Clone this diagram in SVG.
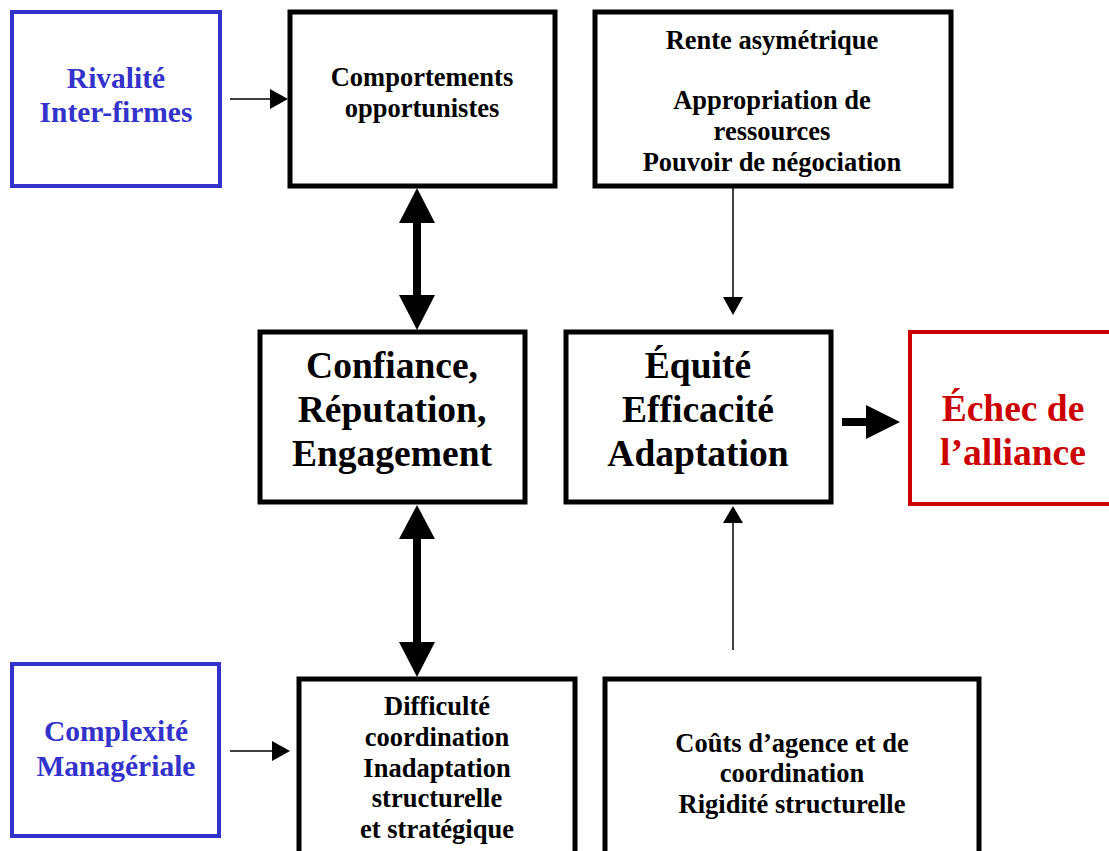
<svg xmlns="http://www.w3.org/2000/svg" width="1109" height="851" viewBox="0 0 1109 851">
<style>
.box{fill:#fff;stroke:#000;stroke-width:5}
.blue{fill:#fff;stroke:#3333CC;stroke-width:4}
.red{fill:#fff;stroke:#CC0000;stroke-width:4}
text{font-family:"Liberation Serif","Times New Roman",serif;font-weight:bold;text-anchor:middle;fill:#000}
.s{font-size:26.5px}
.m{font-size:29.5px;fill:#3333CC}
.l{font-size:37.5px}
.r{font-size:37.5px;fill:#CC0000}
.thin{stroke:#000;stroke-width:1.5;fill:none}
.thick{stroke:#000;stroke-width:8;fill:none}
</style>
<rect width="1109" height="851" fill="#fff"/>
<g id="rivalite"><rect class="blue" x="12" y="12" width="208" height="174"/><text class="m" x="116" y="88">Rivalité</text><text class="m" x="116" y="122">Inter-firmes</text></g>
<g id="comportements"><rect class="box" x="290" y="12" width="265" height="174"/><text class="s" x="422" y="86">Comportements</text><text class="s" x="422" y="117">opportunistes</text></g>
<g id="rente"><rect class="box" x="595" y="12" width="356" height="174"/><text class="s" x="772" y="49">Rente asymétrique</text><text class="s" x="772" y="109">Appropriation de</text><text class="s" x="772" y="140">ressources</text><text class="s" x="772" y="171">Pouvoir de négociation</text></g>
<g id="confiance"><rect class="box" x="260" y="332" width="265" height="170"/><text class="l" x="392" y="378">Confiance,</text><text class="l" x="392" y="422">Réputation,</text><text class="l" x="392" y="466">Engagement</text></g>
<g id="equite"><rect class="box" x="566" y="332" width="265" height="170"/><text class="l" x="698" y="378">Équité</text><text class="l" x="698" y="422">Efficacité</text><text class="l" x="698" y="466">Adaptation</text></g>
<g id="echec"><rect class="red" x="910" y="332" width="205" height="172"/><text class="r" x="1013" y="421">Échec de</text><text class="r" x="1013" y="465">l’alliance</text></g>
<g id="complexite"><rect class="blue" x="12" y="664" width="207" height="172"/><text class="m" x="116" y="741">Complexité</text><text class="m" x="116" y="776">Managériale</text></g>
<g id="difficulte"><rect class="box" x="299" y="679" width="276" height="180"/><text class="s" x="437" y="715">Difficulté</text><text class="s" x="437" y="746">coordination</text><text class="s" x="437" y="777">Inadaptation</text><text class="s" x="437" y="807">structurelle</text><text class="s" x="437" y="838">et stratégique</text></g>
<g id="couts"><rect class="box" x="605" y="679" width="374" height="180"/><text class="s" x="792" y="752">Coûts d’agence et de</text><text class="s" x="792" y="782">coordination</text><text class="s" x="792" y="813">Rigidité structurelle</text></g>
<g id="connectors">
<line class="thin" x1="230" y1="99" x2="272" y2="99"/><polygon points="270,89 288,99 270,109"/>
<line class="thin" x1="230" y1="751" x2="274" y2="751"/><polygon points="272,741 290,751 272,761"/>
<line class="thin" x1="733" y1="188" x2="733" y2="300"/><polygon points="723,297 733,315 743,297"/>
<line class="thin" x1="733" y1="650" x2="733" y2="520"/><polygon points="723,523 733,506 743,523"/>
<line class="thick" x1="417" y1="220" x2="417" y2="300"/><polygon points="399,223 417,188 435,223"/><polygon points="399,295 417,330 435,295"/>
<line class="thick" x1="417" y1="535" x2="417" y2="645"/><polygon points="399,539 417,505 435,539"/><polygon points="399,642 417,677 435,642"/>
<line class="thick" x1="842" y1="422" x2="870" y2="422"/><polygon points="866,405 900,422 866,439"/>
</g>
</svg>
